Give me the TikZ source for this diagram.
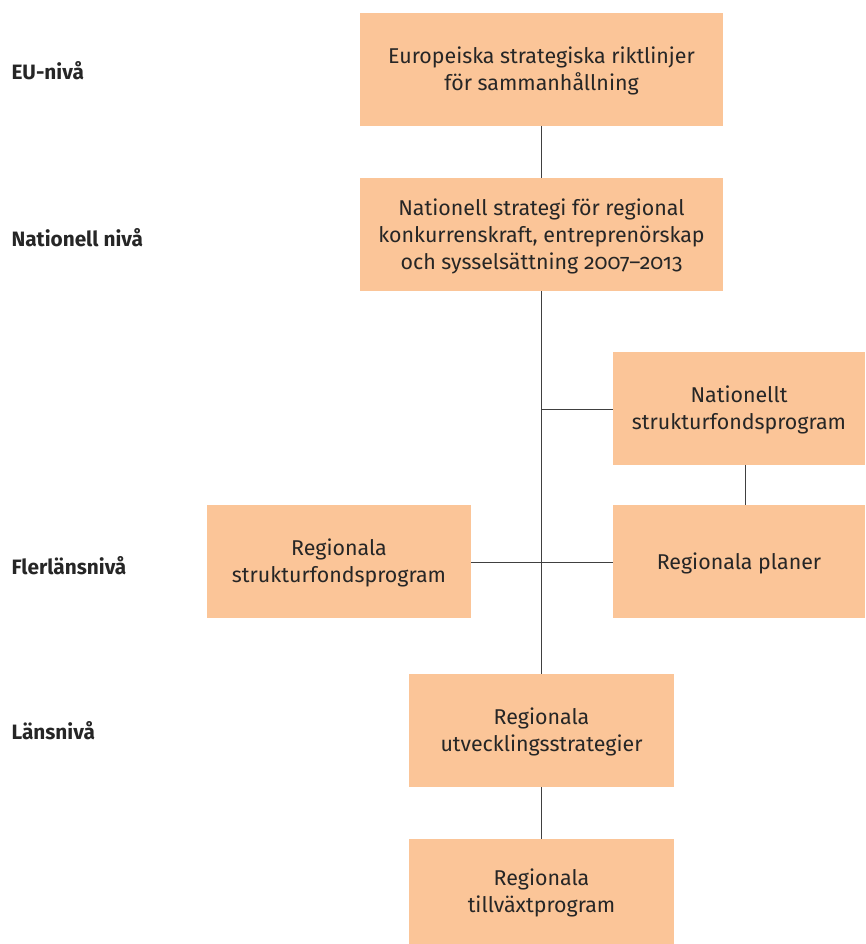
\documentclass[tikz,border=0pt]{standalone}
\usepackage{fontspec}
\setmainfont{Fira Sans}[Numbers=OldStyle]
\begin{document}
\begin{tikzpicture}[x=1pt,y=-1pt,
  box/.style={fill=boxfill,draw=none,align=center,font=\fontsize{21.4}{27}\selectfont,text=black!85},
  lvl/.style={anchor=west,font=\fontsize{20.8}{24}\selectfont\bfseries,text=black!85},
  conn/.style={draw=black!75,line width=1pt}]
\definecolor{boxfill}{HTML}{FBC598}
\useasboundingbox (0,0) rectangle (865,944);
\fill[boxfill] (360,13) rectangle (723,126);
\node[box] (eu) at (541.5,71) {Europeiska strategiska riktlinjer\\för sammanhållning};
\fill[boxfill] (360,178) rectangle (723,291);
\node[box] (nat) at (541.5,236) {Nationell strategi för regional\\konkurrenskraft, entreprenörskap\\och sysselsättning 2007–2013};
\fill[boxfill] (613,352) rectangle (865,465);
\node[box] (nsp) at (739,410) {Nationellt\\strukturfondsprogram};
\fill[boxfill] (613,505) rectangle (865,618);
\node[box] (rp) at (739,563) {Regionala planer};
\fill[boxfill] (207,505) rectangle (471,618);
\node[box] (rsp) at (339,563) {Regionala\\strukturfondsprogram};
\fill[boxfill] (409,674) rectangle (674,787);
\node[box] (rus) at (541.5,732) {Regionala\\utvecklingsstrategier};
\fill[boxfill] (409,839) rectangle (674,944);
\node[box] (rtp) at (541.5,893) {Regionala\\tillväxtprogram};
\coordinate (t1) at (541,409);
\draw[conn] (541,126) -- (541,178);
\draw[conn] (541,291) -- (541,674);
\draw[conn] (541,787) -- (541,839);
\draw[conn] (t1) -- (613,409);
\draw[conn] (471,562) -- (613,562);
\draw[conn] (745,465) -- (745,505);
\node[lvl] (l1) at (8,71) {EU-nivå};
\node[lvl] (l2) at (8,238) {Nationell nivå};
\node[lvl] (l3) at (8,566) {Flerlänsnivå};
\node[lvl] (l4) at (8,731) {Länsnivå};
\end{tikzpicture}
\end{document}
